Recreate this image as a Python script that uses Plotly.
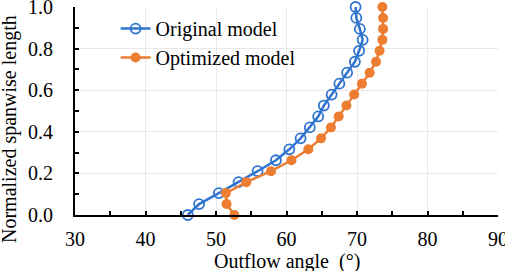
import plotly.graph_objects as go

span = [i / 19 for i in range(20)]
original = [46.0, 47.6, 50.4, 53.2, 55.9, 58.5, 60.4, 62.0, 63.3, 64.5,
            65.3, 66.4, 67.5, 68.6, 69.7, 70.3, 70.8, 70.4, 69.9, 69.8]
optimized = [52.6, 51.5, 51.4, 54.3, 57.8, 60.7, 63.1, 64.9, 66.3, 67.4,
             68.5, 69.6, 70.7, 71.8, 72.7, 73.2, 73.6, 73.7, 73.7, 73.6]
x_title = "Outflow angle  (°)"
y_title = "Normalized spanwise length"

font = "Liberation Serif, Times New Roman, serif"
W, H = 505, 271
L, R, T, B = 75, 7, 7, 56
fig = go.Figure()
fig.add_trace(go.Scatter(x=original, y=span, mode="lines+markers", name="Original model",
                         line=dict(color="#2F74CF", width=2.5),
                         marker=dict(symbol="circle-open", size=10, color="#2F74CF", line=dict(width=1.8)),
                         cliponaxis=False))
fig.add_trace(go.Scatter(x=optimized, y=span, mode="lines+markers", name="Optimized model",
                         line=dict(color="#ED7D31", width=2.5),
                         marker=dict(symbol="circle", size=10, color="#ED7D31"),
                         cliponaxis=False))

ph = H - T - B
fig.update_layout(
    width=W, height=H, margin=dict(l=L, r=R, t=T, b=B, autoexpand=False),
    plot_bgcolor="white", paper_bgcolor="white",
    font=dict(family=font, size=20, color="black"),
    showlegend=True,
    legend=dict(x=0.096, y=0.99, xanchor="left", yanchor="top", bgcolor="rgba(0,0,0,0)",
                font=dict(size=20), tracegroupgap=0, itemwidth=30),
    annotations=[
        dict(text=x_title, xref="paper", yref="paper", x=0.5, y=-(261 - (H - B)) / ph,
             xanchor="center", yanchor="middle", showarrow=False, font=dict(size=20)),
        dict(text=y_title, xref="paper", yref="paper", x=-(L - 9) / (W - L - R),
             y=((H - B) - 129) / ph, textangle=-90,
             xanchor="center", yanchor="middle", showarrow=False, font=dict(size=20)),
    ],
)
fig.update_xaxes(range=[30, 90], dtick=10, showgrid=True, gridcolor="#e8e8e8", gridwidth=1,
                 showline=True, linecolor="black", linewidth=2, zeroline=False, automargin=False,
                 ticks="inside", ticklen=4, tickwidth=2, tickcolor="black",
                 minor=dict(dtick=5, ticks="inside", ticklen=4, tickwidth=2, tickcolor="black", showgrid=False),
                 tickfont=dict(size=20), ticklabelstandoff=5, ticklabeloverflow="allow")
fig.update_yaxes(range=[0, 1], dtick=0.2, tickformat=".1f", showgrid=True, gridcolor="#e8e8e8", gridwidth=1,
                 showline=True, linecolor="black", linewidth=2, zeroline=False, automargin=False,
                 ticks="inside", ticklen=4, tickwidth=2, tickcolor="black",
                 minor=dict(dtick=0.1, ticks="inside", ticklen=4, tickwidth=2, tickcolor="black", showgrid=False),
                 tickfont=dict(size=20), ticklabelstandoff=16, ticklabeloverflow="allow")
fig.write_html("out.html", config={"displayModeBar": False},
               post_script="document.body.style.margin='0';document.body.style.overflow='hidden';")
